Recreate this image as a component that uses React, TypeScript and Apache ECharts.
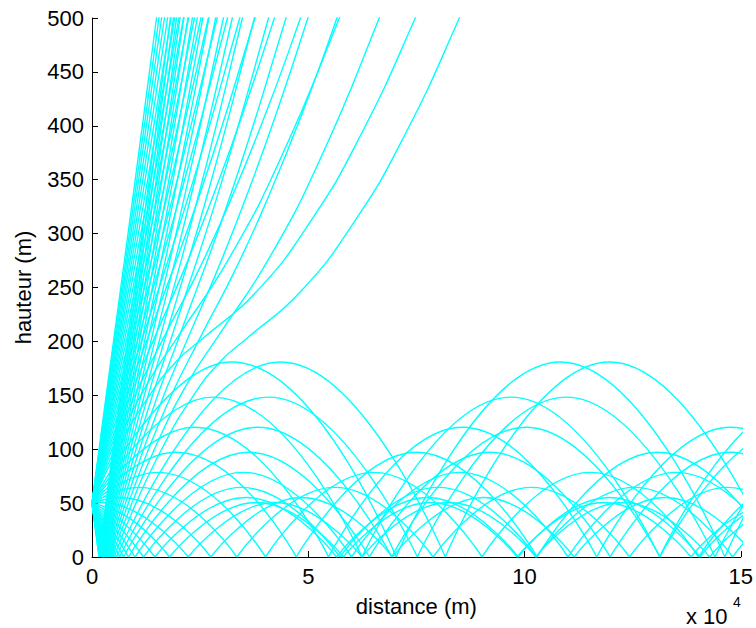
import React, { useEffect, useRef } from "react";
import * as echarts from "echarts";

// distance in units of 10^4 m (axis multiplier "x 10^4"), height in m
const xTicks = { min: 0, max: 15, step: 5 };
const yTicks = { min: 0, max: 500, step: 50 };

// Trapped rays launched upward: each ray = list of arch segments [x, y]
const trappedUp: number[][][][] = [
  [[[0,50],[0.216,50.58],[2.225,0]],[[2.225,0],[4.234,50.58],[6.243,0]],[[6.243,0],[8.252,50.58],[10.261,0]],[[10.261,0],[12.27,50.58],[14.279,0]],[[14.279,0],[16.288,50.58],[18.297,0]]],
  [[[0,50],[0.647,55.24],[2.747,0]],[[2.747,0],[4.847,55.24],[6.947,0]],[[6.947,0],[9.047,55.24],[11.147,0]],[[11.147,0],[13.247,55.24],[15.347,0]]],
  [[[0,50],[1.077,64.55],[3.347,0]],[[3.347,0],[5.617,64.55],[7.887,0]],[[7.887,0],[10.157,64.55],[12.427,0]],[[12.427,0],[14.697,64.55],[16.967,0]]],
  [[[0,50],[1.508,78.51],[4.011,0]],[[4.011,0],[6.514,78.51],[9.017,0]],[[9.017,0],[11.52,78.51],[14.023,0]],[[14.023,0],[16.526,78.51],[19.029,0]]],
  [[[0,50],[1.939,97.13],[4.723,0]],[[4.723,0],[7.507,97.13],[10.291,0]],[[10.291,0],[13.075,97.13],[15.859,0]]],
  [[[0,50],[2.37,120.4],[5.47,0]],[[5.47,0],[8.57,120.4],[11.67,0]],[[11.67,0],[14.77,120.4],[17.87,0]]],
  [[[0,50],[2.801,148.3],[6.242,0]],[[6.242,0],[9.683,148.3],[13.124,0]],[[13.124,0],[16.565,148.3],[20.006,0]]],
  [[[0,50],[3.232,180.9],[7.032,0]],[[7.032,0],[10.832,180.9],[14.632,0]],[[14.632,0],[18.432,180.9],[22.232,0]]],
];

// Trapped rays launched downward
const trappedDown: number[][][][] = [
  [[[0,50],[0.896,35.1],[1.793,0]],[[1.793,0],[3.802,50.58],[5.811,0]],[[5.811,0],[7.82,50.58],[9.829,0]],[[9.829,0],[11.838,50.58],[13.847,0]],[[13.847,0],[15.856,50.58],[17.865,0]]],
  [[[0,50],[0.727,31.6],[1.454,0]],[[1.454,0],[3.554,55.24],[5.654,0]],[[5.654,0],[7.754,55.24],[9.854,0]],[[9.854,0],[11.954,55.24],[14.054,0]],[[14.054,0],[16.154,55.24],[18.254,0]]],
  [[[0,50],[0.596,29.5],[1.193,0]],[[1.193,0],[3.463,64.55],[5.733,0]],[[5.733,0],[8.003,64.55],[10.273,0]],[[10.273,0],[12.543,64.55],[14.813,0]],[[14.813,0],[17.083,64.55],[19.353,0]]],
  [[[0,50],[0.498,28.1],[0.995,0]],[[0.995,0],[3.498,78.51],[6.001,0]],[[6.001,0],[8.504,78.51],[11.007,0]],[[11.007,0],[13.51,78.51],[16.013,0]]],
  [[[0,50],[0.423,27.2],[0.845,0]],[[0.845,0],[3.629,97.13],[6.413,0]],[[6.413,0],[9.197,97.13],[11.981,0]],[[11.981,0],[14.765,97.13],[17.549,0]]],
  [[[0,50],[0.365,26.6],[0.73,0]],[[0.73,0],[3.83,120.4],[6.93,0]],[[6.93,0],[10.03,120.4],[13.13,0]],[[13.13,0],[16.23,120.4],[19.33,0]]],
  [[[0,50],[0.32,26.3],[0.64,0]],[[0.64,0],[4.081,148.3],[7.522,0]],[[7.522,0],[10.963,148.3],[14.404,0]],[[14.404,0],[17.845,148.3],[21.286,0]]],
  [[[0,50],[0.284,26],[0.568,0]],[[0.568,0],[4.368,180.9],[8.168,0]],[[8.168,0],[11.968,180.9],[15.768,0]]],
];

// Escaping rays launched upward
const escapingUp: number[][][][] = [
  [[[0,50],[0.65,104.4],[1.3,148.1],[1.95,181.4],[2.601,204],[3.801,246],[5.038,310.5],[6.201,390.5],[7.475,500],[8.101,562]]],
  [[[0,50],[0.66,112.3],[1.32,163.6],[1.98,204],[3.18,277.7],[4.38,371.5],[5.719,500],[6.18,550]]],
  [[[0,50],[0.832,135.7],[1.664,204],[2.464,265.9],[3.244,334.8],[4.064,416.4],[4.82,500],[5.264,552.8]]],
  [[[0,50],[0.727,133.7],[1.453,204],[2.153,268.9],[2.853,340.6],[3.553,419.3],[4.216,500],[4.553,543.4]]],
  [[[0,50],[0.65,132.5],[1.297,204],[2.537,341.9],[3.768,500],[4.097,545.9]]],
  [[[0,50],[0.59,131.7],[1.175,204],[2.295,343.1],[3.416,500],[3.675,538.7]]],
  [[[0,50],[0.54,130.9],[1.076,204],[2.106,344.9],[3.132,500],[3.376,539.1]]],
  [[[0,50],[0.5,130.6],[0.994,204],[1.944,345.7],[2.894,500],[3.094,534]]],
  [[[0,50],[0.46,129.3],[0.924,204],[1.804,345.8],[2.692,500],[2.924,542.1]]],
  [[[0,50],[0.43,129],[0.864,204],[1.694,347.7],[2.518,500],[2.714,537.6]]],
  [[[0,50],[0.41,129.8],[0.812,204],[1.592,348.3],[2.367,500],[2.562,539.4]]],
  [[[0,50],[0.38,128.2],[0.766,204],[1.496,347.4],[2.234,500],[2.416,538.9]]],
  [[[0,50],[0.36,128.1],[0.726,204],[1.426,349.7],[2.116,500],[2.276,535.8]]],
  [[[0,50],[0.345,128.6],[0.689,204],[1.349,348.9],[2.009,500],[2.189,542.2]]],
  [[[0,50],[0.33,128.8],[0.656,204],[1.286,349.5],[1.914,500],[2.056,534.9]]],
  [[[0,50],[0.313,128.2],[0.626,204],[1.226,349.4],[1.827,500],[1.976,538.2]]],
  [[[0,50],[0.3,128.3],[0.599,204],[1.174,349.8],[1.748,500],[1.899,540.3]]],
  [[[0,50],[0.287,128],[0.574,204],[1.124,349.7],[1.675,500],[1.824,541.2]]],
  [[[0,50],[0.276,128],[0.552,204],[1.08,350.4],[1.609,500],[1.75,541]]],
  [[[0,50],[0.265,127.8],[0.53,204],[1.04,350.5],[1.548,500],[1.68,539.6]]],
  [[[0,50],[0.255,127.7],[0.511,204],[1.001,350.3],[1.491,500],[1.611,537]]],
];

// Escaping rays launched downward (ground bounce first)
const escapingDown: number[][][][] = [
  [[[0,50],[0.509,0]],[[0.509,0],[1.018,50],[1.668,104.4],[2.318,148.1],[2.968,181.4],[3.619,204],[4.819,246],[6.056,310.5],[7.219,390.5],[8.493,500],[9.119,562]]],
  [[[0,50],[0.461,0]],[[0.461,0],[0.923,50],[1.583,112.3],[2.243,163.6],[2.903,204],[4.103,277.7],[5.303,371.5],[6.642,500],[7.103,550]]],
  [[[0,50],[0.421,0]],[[0.421,0],[0.843,50],[1.675,135.7],[2.507,204],[3.307,265.9],[4.087,334.8],[4.907,416.4],[5.663,500],[6.107,552.8]]],
  [[[0,50],[0.388,0]],[[0.388,0],[0.775,50],[1.502,133.7],[2.228,204],[2.928,268.9],[3.628,340.6],[4.328,419.3],[4.991,500],[5.328,543.4]]],
  [[[0,50],[0.358,0]],[[0.358,0],[0.717,50],[1.367,132.5],[2.014,204],[3.254,341.9],[4.485,500],[4.814,545.9]]],
  [[[0,50],[0.333,0]],[[0.333,0],[0.666,50],[1.256,131.7],[1.841,204],[2.961,343.1],[4.082,500],[4.341,538.7]]],
  [[[0,50],[0.312,0]],[[0.312,0],[0.623,50],[1.163,130.9],[1.699,204],[2.729,344.9],[3.755,500],[3.999,539.1]]],
  [[[0,50],[0.292,0]],[[0.292,0],[0.584,50],[1.084,130.6],[1.578,204],[2.528,345.7],[3.478,500],[3.678,534]]],
  [[[0,50],[0.275,0]],[[0.275,0],[0.551,50],[1.011,129.3],[1.475,204],[2.355,345.8],[3.243,500],[3.475,542.1]]],
  [[[0,50],[0.26,0]],[[0.26,0],[0.52,50],[0.95,129],[1.384,204],[2.214,347.7],[3.038,500],[3.234,537.6]]],
  [[[0,50],[0.246,0]],[[0.246,0],[0.492,50],[0.902,129.8],[1.304,204],[2.084,348.3],[2.859,500],[3.054,539.4]]],
  [[[0,50],[0.234,0]],[[0.234,0],[0.468,50],[0.848,128.2],[1.234,204],[1.964,347.4],[2.702,500],[2.884,538.9]]],
  [[[0,50],[0.223,0]],[[0.223,0],[0.446,50],[0.806,128.1],[1.172,204],[1.872,349.7],[2.562,500],[2.722,535.8]]],
  [[[0,50],[0.213,0]],[[0.213,0],[0.425,50],[0.77,128.6],[1.114,204],[1.774,348.9],[2.434,500],[2.614,542.2]]],
  [[[0,50],[0.204,0]],[[0.204,0],[0.407,50],[0.737,128.8],[1.063,204],[1.693,349.5],[2.321,500],[2.463,534.9]]],
  [[[0,50],[0.195,0]],[[0.195,0],[0.39,50],[0.703,128.2],[1.016,204],[1.616,349.4],[2.217,500],[2.366,538.2]]],
  [[[0,50],[0.187,0]],[[0.187,0],[0.374,50],[0.674,128.3],[0.973,204],[1.548,349.8],[2.122,500],[2.273,540.3]]],
  [[[0,50],[0.18,0]],[[0.18,0],[0.36,50],[0.647,128],[0.934,204],[1.484,349.7],[2.035,500],[2.184,541.2]]],
  [[[0,50],[0.173,0]],[[0.173,0],[0.346,50],[0.622,128],[0.898,204],[1.426,350.4],[1.955,500],[2.096,541]]],
  [[[0,50],[0.167,0]],[[0.167,0],[0.334,50],[0.599,127.8],[0.864,204],[1.374,350.5],[1.882,500],[2.014,539.6]]],
  [[[0,50],[0.161,0]],[[0.161,0],[0.322,50],[0.577,127.7],[0.833,204],[1.323,350.3],[1.813,500],[1.933,537]]],
];

const FONT = '"Liberation Sans", Arial, Helvetica, sans-serif';
const RAY_COLOR = "#00ffff";

function rayToData(ray: number[][][]) {
  const out: any[] = [];
  ray.forEach((seg, i) => {
    if (i > 0) out.push(["-", "-"]);
    seg.forEach((p) => out.push([p[0], p[1]]));
  });
  return out;
}

export default function App() {
  const ref = useRef<HTMLDivElement>(null);
  useEffect(() => {
    if (!ref.current) return;
    const chart = echarts.init(ref.current, null, { renderer: "svg" });
    const rays = [...trappedUp, ...trappedDown, ...escapingUp, ...escapingDown];
    const axisCommon = {
      axisLine: { show: true, onZero: false, lineStyle: { color: "#000", width: 1 } },
      axisTick: { show: true, inside: true, length: 6, lineStyle: { color: "#000", width: 1 } },
      axisLabel: { color: "#000", fontSize: 22, fontFamily: FONT, margin: 8 },
      splitLine: { show: false },
      nameTextStyle: { color: "#000", fontSize: 22, fontFamily: FONT },
    };
    chart.setOption({
      animation: false,
      backgroundColor: "#fff",
      grid: { left: 92, top: 18, width: 651, height: 539, containLabel: false },
      xAxis: {
        type: "value",
        min: xTicks.min,
        max: xTicks.max,
        interval: xTicks.step,
        name: "distance (m)",
        nameLocation: "middle",
        nameGap: 38,
        ...axisCommon,
      },
      yAxis: {
        type: "value",
        min: yTicks.min,
        max: yTicks.max,
        interval: yTicks.step,
        name: "hauteur (m)",
        nameLocation: "middle",
        nameGap: 58,
        ...axisCommon,
      },
      series: rays.map((r) => ({
        type: "line",
        data: rayToData(r),
        smooth: 0.5,
        symbol: "none",
        showSymbol: false,
        connectNulls: false,
        clip: true,
        silent: true,
        lineStyle: { color: RAY_COLOR, width: 1.4 },
      })),
      graphic: [
        {
          type: "text",
          left: 686,
          top: 605,
          style: { text: "x 10", font: `22px ${FONT}`, fill: "#000" },
        },
        {
          type: "text",
          left: 733,
          top: 595,
          style: { text: "4", font: `14px ${FONT}`, fill: "#000" },
        },
      ],
    });
    return () => chart.dispose();
  }, []);
  return (
    <div
      ref={ref}
      style={{ position: "fixed", left: 0, top: 0, width: 756, height: 628 }}
    />
  );
}
